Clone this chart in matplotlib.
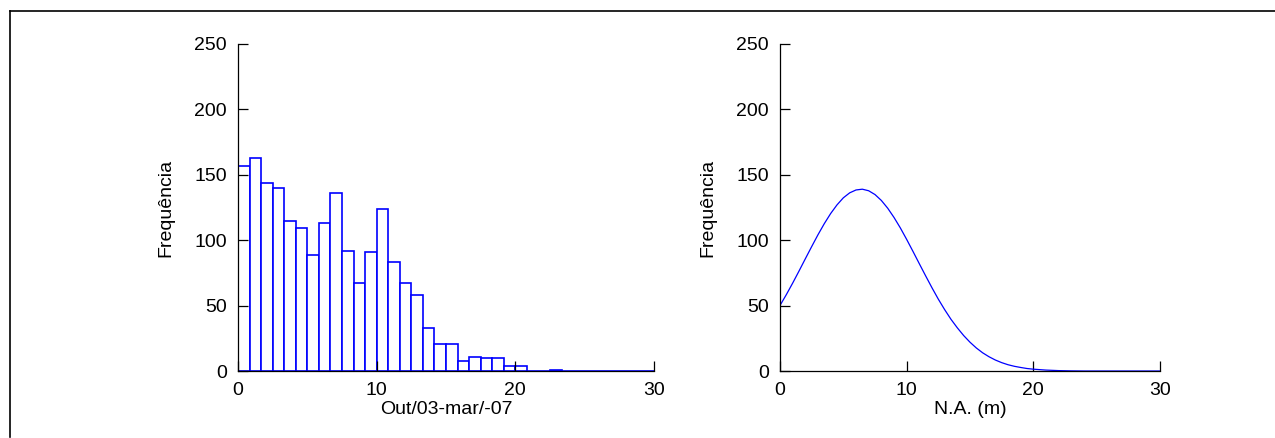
import numpy as np
import matplotlib.pyplot as plt
from matplotlib.lines import Line2D

plt.rcParams['font.family'] = ['Liberation Sans', 'DejaVu Sans']

# Histograma: 36 classes de 0 a 30
bin_edges = np.linspace(0, 30, 37)
contagens = [157, 163, 144, 140, 115, 109, 89, 113, 136, 92, 67, 91,
             124, 83, 67, 58, 33, 21, 21, 8, 11, 10, 10, 4,
             4, 0, 0, 1, 0, 0, 0, 0, 0, 0, 0, 0]

# Curva normal ajustada (valores lidos a cada 0.5 m)
na_x = [0, 0.5, 1, 1.5, 2, 2.5, 3, 3.5, 4, 4.5, 5, 5.5, 6, 6.5, 7, 7.5,
        8, 8.5, 9, 9.5, 10, 10.5, 11, 11.5, 12, 12.5, 13, 13.5, 14, 14.5,
        15, 15.5, 16, 16.5, 17, 17.5, 18, 18.5, 19, 19.5, 20, 21, 22, 23,
        24, 26, 28, 30]
na_freq = [50.1, 58.4, 67.2, 76.4, 85.8, 95.1, 104.2, 112.7, 120.4, 127.0,
           132.4, 136.2, 138.4, 139.0, 137.8, 134.9, 130.4, 124.5, 117.4,
           109.4, 100.6, 91.4, 82.0, 72.7, 63.6, 54.9, 46.9, 39.5, 33.0,
           27.1, 22.0, 17.6, 13.9, 10.9, 8.4, 6.4, 4.8, 3.6, 2.7, 1.9, 1.4,
           0.7, 0.3, 0.1, 0.0, 0.0, 0.0, 0.0]

yticks = [0, 50, 100, 150, 200, 250]
xticks = [0, 10, 20, 30]

W, H = 1275, 438
fig = plt.figure(figsize=(W / 100, H / 100), dpi=100)

ax1 = fig.add_axes([238 / W, 1 - 371 / H, 416 / W, 327 / H])
ax2 = fig.add_axes([780 / W, 1 - 371 / H, 380 / W, 327 / H])

ax1.bar(bin_edges[:-1], contagens, width=np.diff(bin_edges), align='edge',
        facecolor='white', edgecolor='#0000ff', linewidth=1.2, zorder=1)
ax1.set_xlabel('Out/03-mar/-07')

ax2.plot(na_x, na_freq, color='#0000ff', lw=0.9)
ax2.set_xlabel('N.A. (m)')

for ax in (ax1, ax2):
    ax.set_xlim(0, 30)
    ax.set_ylim(0, 250)
    ax.set_xticks(xticks)
    ax.set_yticks(yticks)
    ax.set_ylabel('Frequência', fontsize=14, labelpad=14)
    ax.xaxis.label.set_fontsize(14)
    ax.spines['top'].set_visible(False)
    ax.spines['right'].set_visible(False)
    ax.spines['left'].set_linewidth(0.9)
    ax.spines['bottom'].set_linewidth(0.9)
    ax.tick_params(direction='in', length=7, width=0.9, labelsize=14, pad=8)
    ax.xaxis.labelpad = 1

# Moldura parcial da figura
fig.add_artist(Line2D([10 / W, 1], [1 - 11 / H, 1 - 11 / H], color='black', lw=1.2))
fig.add_artist(Line2D([10 / W, 10 / W], [1 - 11 / H, 0.003], color='black', lw=1.2))

fig.savefig('out.png', dpi=100)
